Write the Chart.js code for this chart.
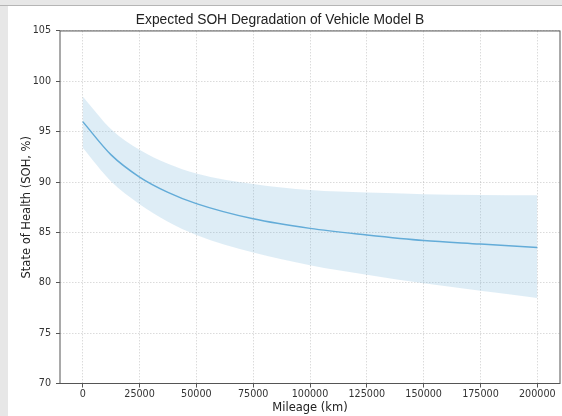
<!DOCTYPE html>
<html>
<head>
<meta charset="utf-8">
<script src="https://cdn.jsdelivr.net/npm/chart.js@4/dist/chart.umd.min.js"></script>
<style>
  html, body { margin: 0; padding: 0; background: #e7e7e7; }
  canvas { display: block; }
</style>
</head>
<body>
<canvas id="sohChart" width="562" height="416"></canvas>
<script>
// --- data ---
const mileage  = [0, 12500, 25000, 37500, 50000, 75000, 100000, 125000, 150000, 175000, 200000];
const sohMean  = [96.0, 92.7, 90.5, 88.98, 87.86, 86.35, 85.4, 84.75, 84.2, 83.85, 83.5];
const sohUpper = [98.5, 95.25, 93.2, 91.82, 90.85, 89.8, 89.2, 88.95, 88.8, 88.72, 88.68];
const sohLower = [93.4, 90.05, 87.8, 86.06, 84.75, 83.0, 81.75, 80.8, 79.95, 79.2, 78.5];

const xTicks = [0, 25000, 50000, 75000, 100000, 125000, 150000, 175000, 200000];
const yTicks = [70, 75, 80, 85, 90, 95, 100, 105];

const toPoints = arr => arr.map((y, i) => ({ x: mileage[i], y: y }));

const lineColor = '#62acd9';
const bandColor = 'rgba(107, 174, 214, 0.22)';
const tickFont = { family: 'DejaVu Sans', size: 9.6 };

// page background, white panel and frame round the plot
const framePlugin = {
  id: 'frame',
  beforeDraw(chart) {
    const ctx = chart.ctx;
    ctx.save();
    ctx.fillStyle = '#e7e7e7';
    ctx.fillRect(0, 0, chart.width, chart.height);
    ctx.fillStyle = '#ffffff';
    ctx.fillRect(8, 6, chart.width - 8, chart.height - 6);
    ctx.fillStyle = '#b5b5b5';
    ctx.fillRect(0, 5, chart.width, 1);
    ctx.restore();
  },
  afterDraw(chart) {
    const a = chart.chartArea;
    const ctx = chart.ctx;
    ctx.save();
    ctx.strokeStyle = '#555';
    ctx.lineWidth = 1;
    ctx.strokeRect(a.left, a.top, a.right - a.left, a.bottom - a.top);
    ctx.restore();
  }
};

new Chart(document.getElementById('sohChart'), {
  type: 'line',
  data: {
    datasets: [
      {
        label: 'Upper',
        data: toPoints(sohUpper),
        borderWidth: 0,
        borderColor: 'transparent',
        backgroundColor: bandColor,
        pointRadius: 0,
        fill: '+1',
        cubicInterpolationMode: 'monotone'
      },
      {
        label: 'Lower',
        data: toPoints(sohLower),
        borderWidth: 0,
        borderColor: 'transparent',
        pointRadius: 0,
        fill: false,
        cubicInterpolationMode: 'monotone'
      },
      {
        label: 'Expected SOH',
        data: toPoints(sohMean),
        borderColor: lineColor,
        borderWidth: 1.5,
        pointRadius: 0,
        fill: false,
        cubicInterpolationMode: 'monotone'
      }
    ]
  },
  options: {
    responsive: false,
    devicePixelRatio: 1,
    animation: false,
    layout: { padding: { left: 0, right: 2, top: 0, bottom: 0 } },
    plugins: {
      legend: { display: false },
      tooltip: { enabled: false },
      title: {
        display: true,
        text: 'Expected SOH Degradation of Vehicle Model B',
        color: '#222',
        font: { family: 'Liberation Sans', size: 13.8, weight: 'normal' },
        padding: { top: 11.5, bottom: 2.9 }
      }
    },
    scales: {
      x: {
        type: 'linear',
        min: -10000,
        max: 210000,
        afterBuildTicks: s => { s.ticks = xTicks.map(v => ({ value: v })); },
        afterFit: s => { s.height = 32.5; },
        ticks: {
          color: '#333',
          font: tickFont,
          padding: 1,
          maxRotation: 0,
          autoSkip: false,
          callback: v => String(v)
        },
        grid: {
          color: 'rgba(0,0,0,0.14)',
          tickColor: '#555',
          tickLength: 4,
          drawTicks: true
        },
        border: { display: false, dash: [1.5, 1.5] },
        title: {
          display: true,
          text: 'Mileage (km)',
          color: '#222',
          font: { family: 'DejaVu Sans', size: 11.5 },
          padding: { top: 0, bottom: 1.5 }
        }
      },
      y: {
        min: 70,
        max: 105,
        afterBuildTicks: s => { s.ticks = yTicks.map(v => ({ value: v })); },
        afterFit: s => { s.width = 60; },
        ticks: {
          color: '#333',
          font: tickFont,
          padding: 5
        },
        grid: {
          color: 'rgba(0,0,0,0.14)',
          tickColor: '#555',
          tickLength: 4,
          drawTicks: true
        },
        border: { display: false, dash: [1.5, 1.5] },
        title: {
          display: true,
          text: 'State of Health (SOH, %)',
          color: '#222',
          font: { family: 'DejaVu Sans', size: 11.5 },
          padding: { top: 20, bottom: 0 }
        }
      }
    }
  },
  plugins: [framePlugin]
});
</script>
</body>
</html>
